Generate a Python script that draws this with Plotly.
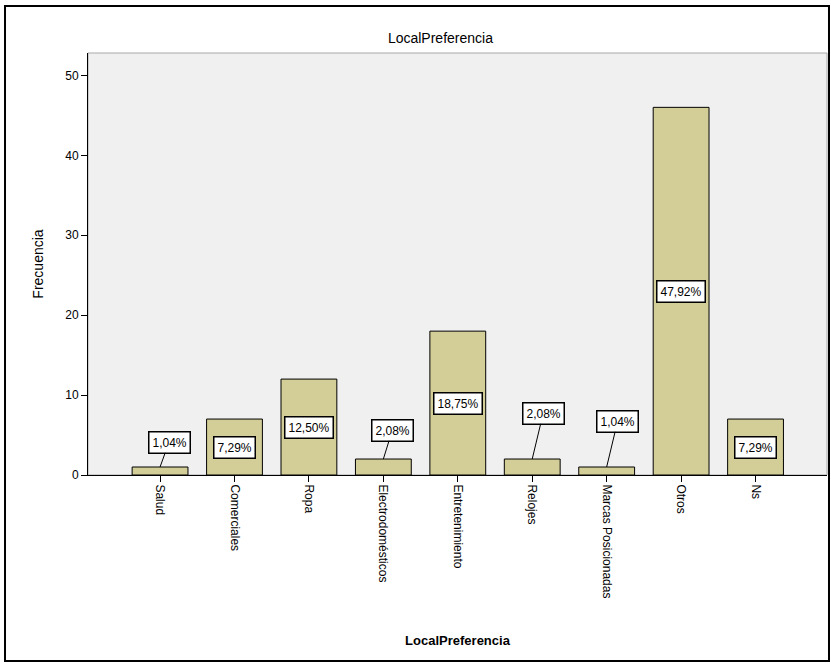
import plotly.graph_objects as go

# Datos
categorias = ["Salud", "Comerciales", "Ropa", "Electrodomésticos", "Entretenimiento",
              "Relojes", "Marcas Posicionadas", "Otros", "Ns"]
frecuencias = [1, 7, 12, 2, 18, 2, 1, 46, 7]
porcentajes = ["1,04%", "7,29%", "12,50%", "2,08%", "18,75%", "2,08%", "1,04%", "47,92%", "7,29%"]
y_ticks = [0, 10, 20, 30, 40, 50]

BAR_COLOR = "#d3ce97"
FONT = "Liberation Sans, Arial, sans-serif"

fig = go.Figure()
fig.add_trace(go.Bar(
    x=categorias,
    y=frecuencias,
    width=0.75,
    marker=dict(color=BAR_COLOR, line=dict(color="black", width=1)),
    hoverinfo="x+y",
))

# etiquetas de porcentaje: dentro de la barra si es alta, encima con línea si es baja
offsets = {0: (9, -25), 3: (9, -29), 5: (11, -46), 6: (11, -46)}
annotations = []
for i, (cat, val, pct) in enumerate(zip(categorias, frecuencias, porcentajes)):
    common = dict(
        x=cat, xref="x", yref="y", text=pct,
        font=dict(family=FONT, size=12, color="black"),
        bgcolor="white", bordercolor="black", borderwidth=1.5, borderpad=3,
    )
    if i in offsets:
        ax, ay = offsets[i]
        annotations.append(dict(common, y=val, showarrow=True, arrowhead=0,
                                arrowwidth=1, arrowcolor="black", ax=ax, ay=ay,
                                standoff=0))
    else:
        annotations.append(dict(common, y=val / 2, showarrow=False))

fig.update_layout(
    width=831, height=667,
    margin=dict(l=88, r=4, t=53, b=192),
    paper_bgcolor="white",
    plot_bgcolor="#f0f0f0",
    font=dict(family=FONT, color="black"),
    showlegend=False,
    title=dict(text="LocalPreferencia", x=0.53, xref="container", xanchor="center",
               y=1 - 38 / 667, yref="container", yanchor="middle",
               font=dict(size=14, family=FONT, color="black")),
    xaxis=dict(
        title=dict(text="<b>LocalPreferencia</b>", font=dict(size=13, color="black"),
                   standoff=38),
        automargin=False,
        range=[-0.968, 8.96],
        tickangle=90,
        tickfont=dict(size=12, color="black"),
        ticks="outside", ticklen=6, tickcolor="black",
        showline=True, linecolor="black", linewidth=1,
        showgrid=False,
    ),
    yaxis=dict(
        title=dict(text="Frecuencia", font=dict(size=14, color="black"), standoff=18),
        automargin=False,
        range=[0, 52.8],
        tickvals=y_ticks,
        tickfont=dict(size=12, color="black"),
        ticks="outside", ticklen=6, tickcolor="black",
        showline=True, linecolor="black", linewidth=1,
        showgrid=False, zeroline=False,
    ),
    annotations=annotations,
    shapes=[
        # borde gris del área de trazado
        dict(type="rect", xref="paper", yref="paper", x0=0, x1=1, y0=0, y1=1,
             line=dict(color="#a8a8a8", width=1), layer="below"),
        # marco exterior negro
        dict(type="rect", xref="paper", yref="paper",
             x0=-0.1123, x1=1.0027, y0=-0.4408, y1=1.1114,
             line=dict(color="black", width=2)),
    ],
)

fig.write_html("out.html", config={"displayModeBar": False},
               post_script="document.body.style.margin='0';")
